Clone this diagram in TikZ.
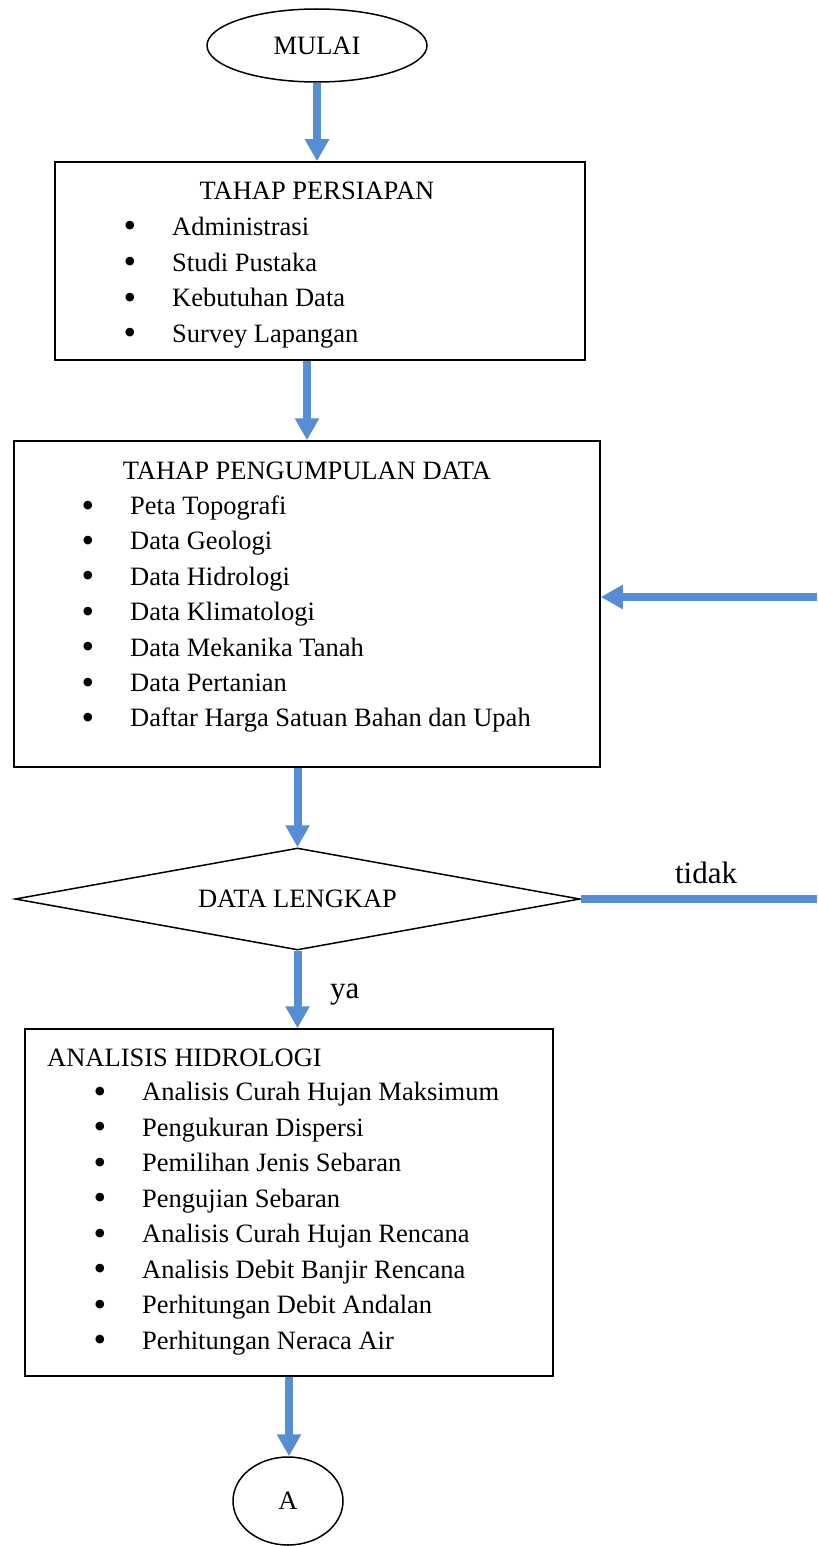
\documentclass[tikz,border=0pt]{standalone}
\usepackage{fontspec}
\setmainfont{Liberation Serif}
\usetikzlibrary{shapes.geometric,arrows.meta}
\definecolor{flowblue}{RGB}{85,142,213}
\tikzset{
  box/.style={draw, line width=1.5pt, inner sep=0pt},
  txt/.style={inner sep=0pt, font=\fontsize{26.5}{32}\selectfont},
  bul/.style={inner sep=0pt, font=\fontsize{36}{40}\selectfont},
  lbl/.style={inner sep=0pt, font=\fontsize{31}{36}\selectfont},
  flow/.style={draw=flowblue, line width=8pt, -{Triangle[width=23pt,length=22pt]}},
  bline/.style={draw=flowblue, line width=8pt},
}
\newcommand\bulitem[4]{%
  \node[bul, anchor=base] (#1b) at ({#2-42},{#3+5}) {•};
  \node[txt, anchor=base west] (#1) at (#2,{#3+2.5}) {#4};}
\begin{document}
\begin{tikzpicture}[x=1pt,y=-1pt]
\useasboundingbox (0,0) rectangle (817,1546);
% shapes
\node[box, ellipse, minimum width=220pt, minimum height=73pt, font=\fontsize{26.5}{32}\selectfont] (mulai) at (317,45.5) {MULAI};
\node[box, minimum width=530pt, minimum height=198pt] (box1) at (320,261) {};
\node[box, minimum width=586pt, minimum height=326pt] (box2) at (307,604) {};
\node[box, diamond, aspect=5.54, minimum width=565pt, minimum height=102pt, font=\fontsize{26.5}{32}\selectfont] (dia) at (297.5,899) {DATA LENGKAP};
\node[box, minimum width=528pt, minimum height=347pt] (box3) at (289,1202.5) {};
\node[box, ellipse, minimum width=110pt, minimum height=88pt, font=\fontsize{26.5}{32}\selectfont] (A) at (288,1501) {A};
% box 1 text
\node[txt, anchor=base] (t1) at (317,199.5) {TAHAP PERSIAPAN};
\bulitem{a1}{172}{233}{Administrasi}
\bulitem{a2}{172}{268.5}{Studi Pustaka}
\bulitem{a3}{172}{304}{Kebutuhan Data}
\bulitem{a4}{172}{339.5}{Survey Lapangan}
% box 2 text
\node[txt, anchor=base] (t2) at (307,479) {TAHAP PENGUMPULAN DATA};
\bulitem{b1}{130}{512}{Peta Topografi}
\bulitem{b2}{130}{547.4}{Data Geologi}
\bulitem{b3}{130}{582.8}{Data Hidrologi}
\bulitem{b4}{130}{618.2}{Data Klimatologi}
\bulitem{b5}{130}{653.6}{Data Mekanika Tanah}
\bulitem{b6}{130}{689}{Data Pertanian}
\bulitem{b7}{130}{724.4}{Daftar Harga Satuan Bahan dan Upah}
% box 3 text
\node[txt, anchor=base west] (t3) at (47,1066) {ANALISIS HIDROLOGI};
\bulitem{c1}{142}{1098}{Analisis Curah Hujan Maksimum}
\bulitem{c2}{142}{1133.5}{Pengukuran Dispersi}
\bulitem{c3}{142}{1169}{Pemilihan Jenis Sebaran}
\bulitem{c4}{142}{1204.5}{Pengujian Sebaran}
\bulitem{c5}{142}{1240}{Analisis Curah Hujan Rencana}
\bulitem{c6}{142}{1275.5}{Analisis Debit Banjir Rencana}
\bulitem{c7}{142}{1311}{Perhitungan Debit Andalan}
\bulitem{c8}{142}{1346.5}{Perhitungan Neraca Air}
% labels
\node[lbl, anchor=base] (tidak) at (706,883) {tidak};
\node[lbl, anchor=base west] (ya) at (330,998) {ya};
% edge coordinates
\coordinate (rA) at (817,899);
\coordinate (rB) at (817,597);
% connectors
\draw[flow] (mulai.south) -- (mulai.south |- box1.north);
\draw[flow] (box2.north |- box1.south) -- (box2.north);
\draw[flow] (dia.north |- box2.south) -- (dia.north);
\draw[flow] (dia.south) -- (dia.south |- box3.north);
\draw[flow] (box3.south) -- (box3.south |- A.north);
\draw[bline] (dia.east) -- (rA);
\draw[flow] (rB) -- (rB -| box2.east);
\end{tikzpicture}
\end{document}
